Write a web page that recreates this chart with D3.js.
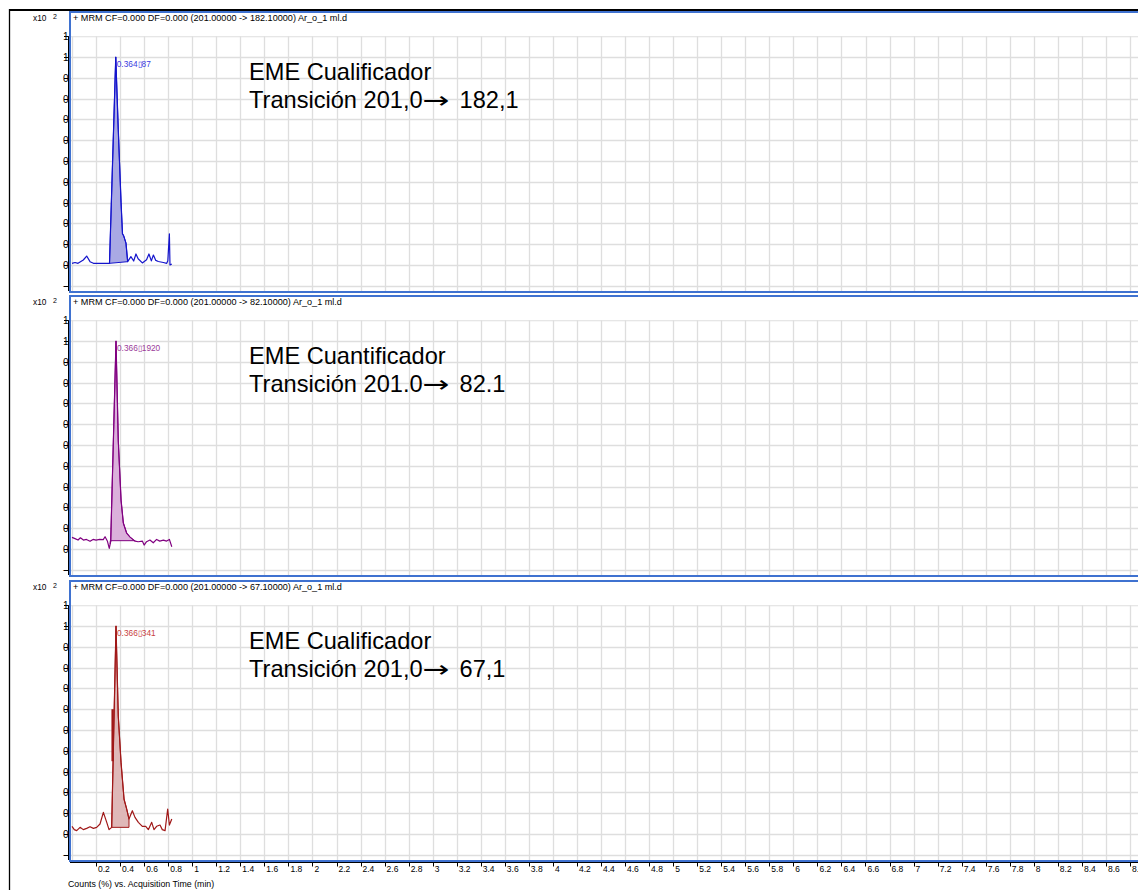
<!DOCTYPE html>
<html>
<head>
<meta charset="utf-8">
<script src="https://cdn.jsdelivr.net/npm/d3@7/dist/d3.min.js"></script>
<style>
  html, body { margin: 0; padding: 0; background: #fff; }
  svg { display: block; font-family: "Liberation Sans", Arial, sans-serif; }
</style>
</head>
<body>
<svg id="chart" width="1138" height="890"></svg>
<script>
// ---- data -------------------------------------------------------------
const headers = [
  "+ MRM CF=0.000 DF=0.000 (201.00000 -> 182.10000) Ar_o_1 ml.d",
  "+ MRM CF=0.000 DF=0.000 (201.00000 -> 82.10000) Ar_o_1 ml.d",
  "+ MRM CF=0.000 DF=0.000 (201.00000 -> 67.10000) Ar_o_1 ml.d"
];
const titles = ["EME Cualificador", "EME Cuantificador", "EME Cualificador"];
// transition label: precursor part, arrow, product part
const transFrom = ["Transición 201,0", "Transición 201.0", "Transición 201,0"];
const transTo = ["182,1", "82.1", "67,1"];
const peakLabels = ["0.364\u25AF87", "0.366\u25AF1920", "0.366\u25AF341"];

// acquisition time (min) and relative response (x10^2 %)
const time1 = [0, 0.025, 0.05, 0.094, 0.122, 0.15, 0.178, 0.25, 0.312, 0.364, 0.385, 0.408, 0.42, 0.43, 0.449, 0.463, 0.49, 0.513, 0.532, 0.55, 0.585, 0.62, 0.64, 0.66, 0.677, 0.697, 0.718, 0.76, 0.788, 0.797, 0.81, 0.815, 0.83];
const resp1 = [0.008, 0.012, 0.008, 0.024, 0.043, 0.016, 0.008, 0.008, 0.008, 1.0, 0.65, 0.30, 0.15, 0.14, 0.105, 0.016, 0.04, 0.019, 0.053, 0.03, 0.01, 0.025, 0.053, 0.02, 0.048, 0.022, 0.017, 0.012, 0.008, 0.02, 0.15, 0.0, 0.005];

const time2 = [0, 0.025, 0.05, 0.07, 0.095, 0.12, 0.15, 0.175, 0.2, 0.23, 0.26, 0.275, 0.295, 0.31, 0.322, 0.366, 0.385, 0.408, 0.427, 0.455, 0.483, 0.524, 0.55, 0.585, 0.6, 0.62, 0.648, 0.676, 0.704, 0.73, 0.76, 0.787, 0.81, 0.83];
const resp2 = [0.056, 0.05, 0.043, 0.054, 0.043, 0.046, 0.037, 0.046, 0.043, 0.046, 0.045, 0.059, 0.037, 0.003, 0.037, 1.0, 0.52, 0.235, 0.125, 0.076, 0.057, 0.038, 0.035, 0.038, 0.019, 0.035, 0.043, 0.03, 0.046, 0.038, 0.043, 0.038, 0.046, 0.011];

const time3 = [0, 0.019, 0.039, 0.067, 0.094, 0.122, 0.15, 0.178, 0.205, 0.233, 0.261, 0.289, 0.308, 0.33, 0.366, 0.385, 0.408, 0.433, 0.455, 0.474, 0.502, 0.524, 0.552, 0.585, 0.613, 0.635, 0.663, 0.682, 0.704, 0.732, 0.751, 0.774, 0.796, 0.81, 0.83];
const resp3 = [0.037, 0.021, 0.016, 0.032, 0.021, 0.027, 0.035, 0.027, 0.032, 0.048, 0.104, 0.056, 0.021, 0.032, 1.0, 0.566, 0.343, 0.167, 0.12, 0.072, 0.112, 0.08, 0.056, 0.037, 0.037, 0.021, 0.056, 0.021, 0.037, 0.043, 0.021, 0.016, 0.12, 0.043, 0.072];

// integrated peak windows: [start, end] time and baseline response at each end
const integStart = [0.312, 0.318, 0.33];
const integEnd   = [0.463, 0.524, 0.474];
const baseStart  = [0.008, 0.04, 0.032];
const baseEnd    = [0.016, 0.04, 0.032];

// overdrawn segment on the rising edge of the third trace (time, from, to)
const markTime = 0.338, markFrom = 0.35, markTo = 0.60;

const xTicks = d3.range(1, 45).map(i => +(i * 0.2).toFixed(1));
const yTicks = d3.range(-1, 12).map(i => +(i * 0.1).toFixed(1));

const lineColors = ["#1414cc", "#800080", "#a01818"];
const fillColors = ["#a9a9e4", "#dbb0db", "#dfb8b8"];
const labelColors = ["#3a3ae0", "#9a3a9a", "#c84040"];

// ---- layout -----------------------------------------------------------
const svg = d3.select("#chart");
const W = 1138;
const plotLeft = 70;
const panelTops = [11, 295, 580];
const x = d3.scaleLinear().domain([0, 8.8]).range([72, 1130]);

const series = [
  { t: time1, v: resp1 },
  { t: time2, v: resp2 },
  { t: time3, v: resp3 }
];

// outer frame
svg.append("line").attr("x1", 9.5).attr("x2", 9.5).attr("y1", 9).attr("y2", 890)
  .attr("stroke", "#000").attr("stroke-width", 1.3);
svg.append("line").attr("x1", 9).attr("x2", W).attr("y1", 10).attr("y2", 10)
  .attr("stroke", "#000").attr("stroke-width", 2);

const defs = svg.append("defs");

series.forEach((s, i) => {
  const top = panelTops[i];
  const y = d3.scaleLinear().domain([0, 1]).range([top + 254, top + 46]);
  const plotTop = y(1.1), plotBottom = top + 280;
  const g = svg.append("g");

  defs.append("clipPath").attr("id", "plotclip" + i)
    .append("rect").attr("x", plotLeft).attr("y", plotTop)
    .attr("width", W - plotLeft).attr("height", plotBottom - plotTop);
  defs.append("clipPath").attr("id", "ylabclip" + i)
    .append("rect").attr("x", 62).attr("y", plotTop - 6)
    .attr("width", 7).attr("height", plotBottom - plotTop + 12);

  // grid
  const grid = g.append("g").attr("clip-path", `url(#plotclip${i})`);
  grid.selectAll("line.v").data(d3.range(0, 46).map(k => k * 0.2)).join("line")
    .attr("x1", d => Math.round(x(d)) + 0.5).attr("x2", d => Math.round(x(d)) + 0.5)
    .attr("y1", plotTop).attr("y2", plotBottom)
    .attr("stroke", "#dedede").attr("stroke-width", 1.3);
  grid.selectAll("line.h").data(yTicks).join("line")
    .attr("x1", plotLeft).attr("x2", W)
    .attr("y1", d => Math.round(y(d)) + 0.5).attr("y2", d => Math.round(y(d)) + 0.5)
    .attr("stroke", "#dedede").attr("stroke-width", 1.3);

  // integrated area
  const pts = s.t.map((t, k) => [t, s.v[k]]);
  const interp = t => {
    for (let k = 1; k < pts.length; k++) {
      if (pts[k][0] >= t) {
        const [t0, v0] = pts[k - 1], [t1, v1] = pts[k];
        return v0 + (v1 - v0) * (t - t0) / (t1 - t0);
      }
    }
    return pts[pts.length - 1][1];
  };
  const a = integStart[i], b = integEnd[i];
  const areaPts = [[a, baseStart[i]], [a, interp(a)]]
    .concat(pts.filter(p => p[0] > a && p[0] < b))
    .concat([[b, interp(b)], [b, baseEnd[i]]]);
  const areaLine = d3.line().x(p => x(p[0])).y(p => y(p[1]));
  g.append("path").attr("d", areaLine(areaPts) + "Z")
    .attr("fill", fillColors[i]).attr("stroke", lineColors[i]).attr("stroke-width", 1)
    .attr("stroke-linejoin", "round");

  // trace
  g.append("path").datum(pts)
    .attr("d", d3.line().x(p => x(p[0])).y(p => y(p[1])))
    .attr("fill", "none").attr("stroke", lineColors[i]).attr("stroke-width", 1.2)
    .attr("stroke-linejoin", "round");

  if (i === 2) {
    g.append("line").attr("x1", x(markTime)).attr("x2", x(markTime))
      .attr("y1", y(markFrom)).attr("y2", y(markTo))
      .attr("stroke", lineColors[i]).attr("stroke-width", 2.4);
  }

  // peak label at the apex
  const apexIdx = d3.maxIndex(s.v);
  g.append("text").attr("x", x(s.t[apexIdx]) + 1).attr("y", top + 56)
    .attr("font-size", 8.3).attr("fill", labelColors[i]).text(peakLabels[i]);

  // annotations
  const tx = 249, ty1 = top + 69, ty2 = top + 97;
  g.append("text").attr("x", tx).attr("y", ty1).attr("font-size", 23.6)
    .attr("fill", "#000").text(titles[i]);
  const fromText = g.append("text").attr("x", tx).attr("y", ty2).attr("font-size", 23.6)
    .attr("fill", "#000").text(transFrom[i]);
  const fromW = fromText.node().getComputedTextLength();
  // long thin arrow: horizontally stretched glyph
  const arrow = g.append("text")
    .attr("transform", `translate(${tx + fromW},${ty2}) scale(1.4,1)`)
    .attr("font-family", "'DejaVu Sans', sans-serif").attr("font-size", 23)
    .attr("fill", "#000").text("\u2192");
  const arrowW = arrow.node().getComputedTextLength() * 1.4;
  g.append("text").attr("x", tx + fromW + arrowW + 10).attr("y", ty2).attr("font-size", 23.6)
    .attr("fill", "#000").text(transTo[i]);

  // y axis
  g.append("line").attr("x1", 68.5).attr("x2", 68.5).attr("y1", plotTop).attr("y2", plotBottom)
    .attr("stroke", "#000").attr("stroke-width", 1);
  g.selectAll("line.yt").data(yTicks).join("line")
    .attr("x1", 64).attr("x2", 68.5)
    .attr("y1", d => Math.round(y(d)) + 0.5).attr("y2", d => Math.round(y(d)) + 0.5)
    .attr("stroke", "#000");
  g.append("g").attr("clip-path", `url(#ylabclip${i})`)
    .selectAll("text").data(yTicks).join("text")
    .attr("x", 63).attr("y", d => y(d) + 4)
    .attr("font-size", 10).attr("fill", "#000")
    .text(d => d3.format("~g")(d));

  // panel frame
  g.append("rect").attr("x", plotLeft).attr("y", top + 1)
    .attr("width", W + 10 - plotLeft).attr("height", 280)
    .attr("fill", "none").attr("stroke", "#3f72d0").attr("stroke-width", 2);

  // header
  g.append("text").attr("x", 73).attr("y", top + 10).attr("font-size", 9.1)
    .attr("fill", "#000").text(headers[i]);
  g.append("text").attr("x", 33).attr("y", top + 10).attr("font-size", 8.3)
    .attr("fill", "#000").text("x10");
  g.append("text").attr("x", 53).attr("y", top + 8).attr("font-size", 7)
    .attr("fill", "#000").text("2");
});

// x axis
const axisY = 862.5;
svg.append("line").attr("x1", plotLeft).attr("x2", W).attr("y1", axisY).attr("y2", axisY)
  .attr("stroke", "#000").attr("stroke-width", 1);
const xt = svg.append("g");
xt.selectAll("line").data(xTicks).join("line")
  .attr("x1", d => Math.round(x(d)) + 0.5).attr("x2", d => Math.round(x(d)) + 0.5)
  .attr("y1", axisY).attr("y2", axisY + 4).attr("stroke", "#000");
xt.selectAll("text").data(xTicks).join("text")
  .attr("x", d => x(d) + 2).attr("y", 872)
  .attr("font-size", 8.5).attr("fill", "#000")
  .text(d => d3.format("~g")(d));

svg.append("text").attr("x", 68).attr("y", 887).attr("font-size", 8.8)
  .attr("fill", "#000").text("Counts (%) vs. Acquisition Time (min)");
</script>
</body>
</html>
